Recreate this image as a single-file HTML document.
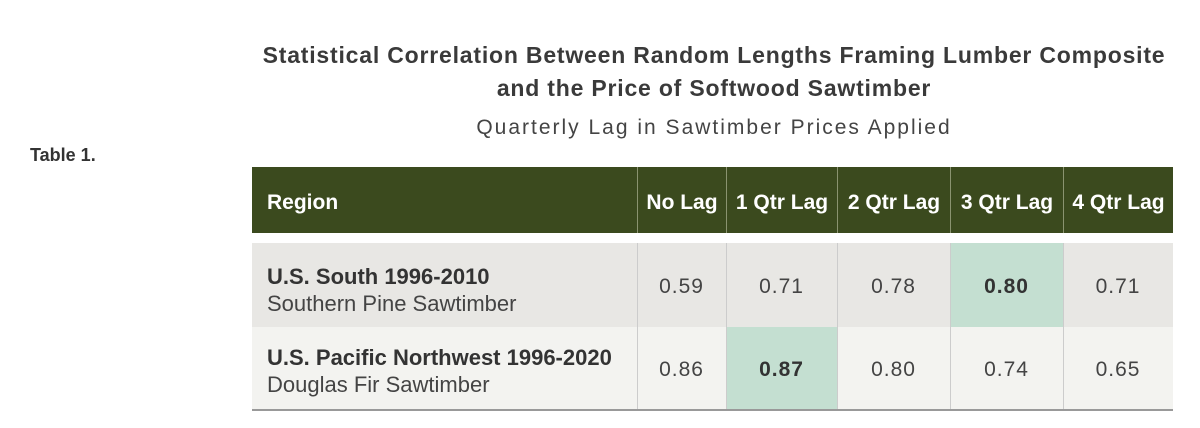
<!DOCTYPE html>
<html><head><style>
body{margin:0;width:1200px;height:428px;background:#fff;font-family:"Liberation Sans",sans-serif;position:relative;overflow:hidden;color:#333}
.t{position:absolute;left:200px;width:1028px;text-align:center;font-weight:bold;font-size:23px;letter-spacing:0.8px;color:#3a3a3a;line-height:33px;top:39px;white-space:nowrap}
.s{position:absolute;left:200px;width:1028px;text-align:center;font-size:21px;color:#444;top:116px;letter-spacing:2px}
.tb{position:absolute;left:30px;top:145px;font-weight:bold;font-size:18px;color:#333}
.c{position:absolute;box-sizing:border-box;display:flex;align-items:center;justify-content:center}
.h{background:#3b4a1e;color:#fff;font-weight:bold;font-size:21px;top:167px;height:66px;padding-top:6px;border-left:1px solid #8a9370;white-space:nowrap}
.r{font-size:21px;color:#444;letter-spacing:1px}
</style></head><body>
<div class="t">Statistical Correlation Between Random Lengths Framing Lumber Composite<br>and the Price of Softwood Sawtimber</div>
<div class="s">Quarterly Lag in Sawtimber Prices Applied</div>
<div class="tb">Table 1.</div>
<div class="c h" style="left:252px;width:385px;justify-content:flex-start;padding-left:15px;border-left:none">Region</div>
<div class="c h" style="left:637px;width:89px">No Lag</div>
<div class="c h" style="left:726px;width:111px">1 Qtr Lag</div>
<div class="c h" style="left:837px;width:113px">2 Qtr Lag</div>
<div class="c h" style="left:950px;width:113px">3 Qtr Lag</div>
<div class="c h" style="left:1063px;width:110px">4 Qtr Lag</div>

<div style="position:absolute;left:252px;top:243px;width:921px;height:84px;background:#e8e7e4"></div>
<div style="position:absolute;left:252px;top:327px;width:921px;height:82px;background:#f3f3f0;border-bottom:2px solid #999"></div>
<div style="position:absolute;left:950px;top:243px;width:113px;height:84px;background:#c4dfd1"></div>
<div style="position:absolute;left:726px;top:327px;width:111px;height:82px;background:#c4dfd1"></div>
<div style="position:absolute;left:637px;top:243px;width:1px;height:166px;background:#ccc"></div>
<div style="position:absolute;left:726px;top:243px;width:1px;height:166px;background:#ccc"></div>
<div style="position:absolute;left:837px;top:243px;width:1px;height:166px;background:#ccc"></div>
<div style="position:absolute;left:950px;top:243px;width:1px;height:166px;background:#ccc"></div>
<div style="position:absolute;left:1063px;top:243px;width:1px;height:166px;background:#ccc"></div>

<div style="position:absolute;left:267px;top:263px;font-size:22px;line-height:27px;color:#333;white-space:nowrap"><b>U.S. South 1996-2010</b><br><span style="color:#444">Southern Pine Sawtimber</span></div>
<div style="position:absolute;left:267px;top:344px;font-size:22px;line-height:27px;color:#333;white-space:nowrap"><b>U.S. Pacific Northwest 1996-2020</b><br><span style="color:#444">Douglas Fir Sawtimber</span></div>

<div class="c r" style="left:637px;top:245px;width:89px;height:84px">0.59</div>
<div class="c r" style="left:726px;top:245px;width:111px;height:84px">0.71</div>
<div class="c r" style="left:837px;top:245px;width:113px;height:84px">0.78</div>
<div class="c r" style="left:950px;top:245px;width:113px;height:84px;font-weight:bold;color:#333">0.80</div>
<div class="c r" style="left:1063px;top:245px;width:110px;height:84px">0.71</div>
<div class="c r" style="left:637px;top:329px;width:89px;height:82px">0.86</div>
<div class="c r" style="left:726px;top:329px;width:111px;height:82px;font-weight:bold;color:#333">0.87</div>
<div class="c r" style="left:837px;top:329px;width:113px;height:82px">0.80</div>
<div class="c r" style="left:950px;top:329px;width:113px;height:82px">0.74</div>
<div class="c r" style="left:1063px;top:329px;width:110px;height:82px">0.65</div>
</body></html>
